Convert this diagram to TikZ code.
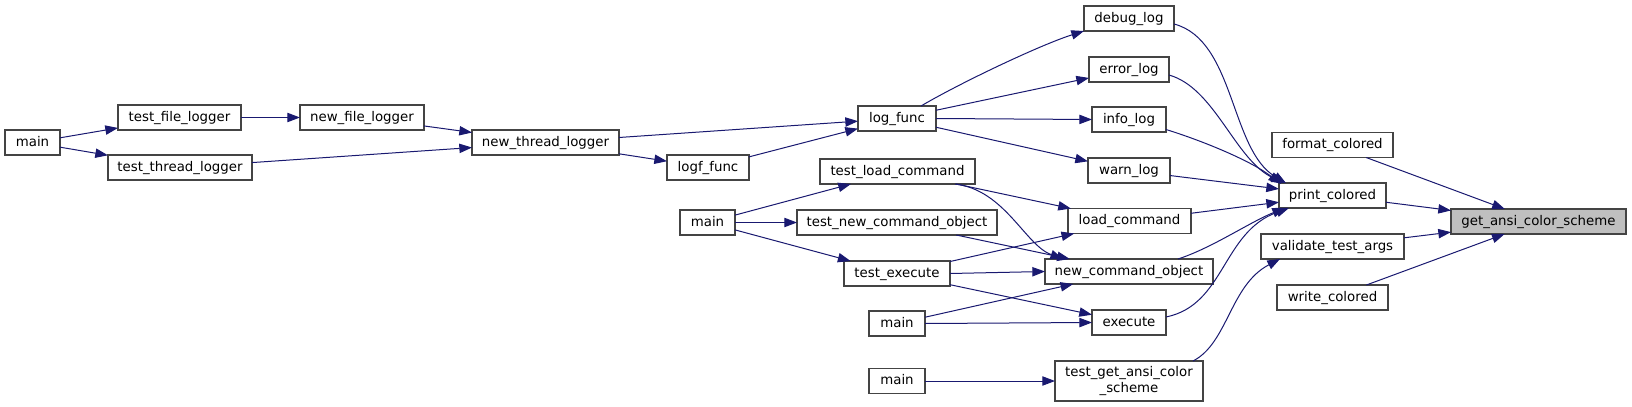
\documentclass[tikz,border=0pt]{standalone}
\usepackage{fontspec}
\setmainfont{DejaVu Sans}
\usetikzlibrary{arrows.meta,calc}
\definecolor{edgeblue}{HTML}{191970}
\definecolor{boxline}{HTML}{444444}
\definecolor{selfill}{HTML}{BFBFBF}
\tikzset{
  box/.style={draw=boxline, line width=0.8pt, fill=white, inner sep=0pt, outer sep=0pt,
    minimum height=18.75pt, font=\fontsize{10}{11.5}\selectfont, text height=7.5pt, text depth=2.2pt},
  wd/.style={minimum width=#1*0.75pt},
  edge/.style={draw=edgeblue, line width=0.75pt, -{Triangle[length=9.5pt,width=7pt]}},
}
\begin{document}
\begin{tikzpicture}[x=0.75pt,y=-0.75pt]
\useasboundingbox (0,0) rectangle (1632,407);
% nodes
\node[box,wd=55]  (m1)  at (32.5,142.5) {main};
\node[box,wd=123] (tfl) at (179.5,117.5) {test\_file\_logger};
\node[box,wd=144] (ttl) at (180,167.5) {test\_thread\_logger};
\node[box,wd=124] (nfl) at (362,117.5) {new\_file\_logger};
\node[box,wd=147] (ntl) at (545.5,142.5) {new\_thread\_logger};
\node[box,wd=82]  (lgf) at (708,167.5) {logf\_func};
\node[box,wd=78]  (lf)  at (897,118.5) {log\_func};
\node[box,wd=155] (tlc) at (897.5,171.5) {test\_load\_command};
\node[box,wd=55]  (m2)  at (707.5,222.5) {main};
\node[box,wd=200] (tnco) at (897,222.5) {test\_new\_command\_object};
\node[box,wd=106] (te)  at (897,273.5) {test\_execute};
\node[box,wd=56]  (m3)  at (897,323.5) {main};
\node[box,wd=56]  (m4)  at (897,381) {main};
\node[box,wd=90]  (dl)  at (1129,18.5) {debug\_log};
\node[box,wd=80]  (el)  at (1129,69.5) {error\_log};
\node[box,wd=74]  (il)  at (1129,119.5) {info\_log};
\node[box,wd=82]  (wl)  at (1129,170.5) {warn\_log};
\node[box,wd=123] (lc)  at (1129.5,221) {load\_command};
\node[box,wd=168] (nco) at (1129,271.5) {new\_command\_object};
\node[box,wd=74]  (ex)  at (1129,322.5) {execute};
\node[box,wd=148,minimum height=30pt,align=center,text height=,text depth=] (tga) at (1129,381) {test\_get\_ansi\_color\\\_scheme};
\node[box,wd=121] (fc)  at (1332.5,145) {format\_colored};
\node[box,wd=107] (pc)  at (1332.5,195.5) {print\_colored};
\node[box,wd=143] (vta) at (1332.5,246.5) {validate\_test\_args};
\node[box,wd=111] (wc)  at (1332.5,297.5) {write\_colored};
\node[box,wd=175,fill=selfill] (gacs) at (1538.5,221.5) {get\_ansi\_color\_scheme};
% straight edges
\draw[edge] (m1) -- (tfl);
\draw[edge] (m1) -- (ttl);
\draw[edge] (tfl) -- (nfl);
\draw[edge] (nfl) -- (ntl);
\draw[edge] (ttl) -- (ntl);
\draw[edge] (ntl) -- (lf);
\draw[edge] (ntl) -- (lgf);
\draw[edge] (lgf) -- (lf);
\draw[edge] (lf) -- (el);
\draw[edge] (lf.east) -- (il.west);
\draw[edge] (lf) -- (wl);
\draw[edge] (wl) -- (pc);
\draw[edge] (lc) -- (pc);
\draw[edge] (fc) -- (gacs);
\draw[edge] (pc) -- (gacs);
\draw[edge] (vta) -- (gacs);
\draw[edge] (wc) -- (gacs);
\draw[edge] (m4) -- (tga);
\draw[edge] (m2) -- (tlc);
\draw[edge] (m2) -- (tnco);
\draw[edge] (m2) -- (te);
\draw[edge] (tlc) -- (lc);
\draw[edge] (tnco) -- (nco);
\draw[edge] (te) -- (lc);
\draw[edge] (te.east) -- (nco.west);
\draw[edge] (te) -- (ex);
\draw[edge] (m3) -- (nco);
\draw[edge] (m3.east) -- (ex.west);
% curved edges
\draw[edge] ($(lf.north)+(24,0)$) .. controls (960,83) and (1040,45) .. (dl.south west);
\draw[edge] ($(dl.east)+(0,5.5)$) .. controls (1235,40) and (1230,150) .. ($(pc.north west)+(7,0)$);
\draw[edge] ($(el.east)+(0,5.5)$) .. controls (1215,88) and (1235,160) .. ($(pc.north west)+(5,0)$);
\draw[edge] ($(il.east)+(0,10)$) .. controls (1200,140) and (1250,160) .. ($(pc.north west)+(2,1)$);
\draw[edge] ($(nco.north)+(49,0)$) .. controls (1212,248) and (1250,222) .. ($(pc.south west)+(6,0)$);
\draw[edge] ($(ex.east)+(0,-5.5)$) .. controls (1225,305) and (1222,232) .. ($(pc.south west)+(10,0)$);
\draw[edge] ($(tga.north)+(64,0)$) .. controls (1228,343) and (1230,285) .. ($(vta.south west)+(19,0)$);
\draw[edge] ($(tlc.south)+(57.5,0)$) .. controls (1005,190) and (1025,245) .. ($(nco.north west)+(18,0)$);
\end{tikzpicture}
\end{document}
